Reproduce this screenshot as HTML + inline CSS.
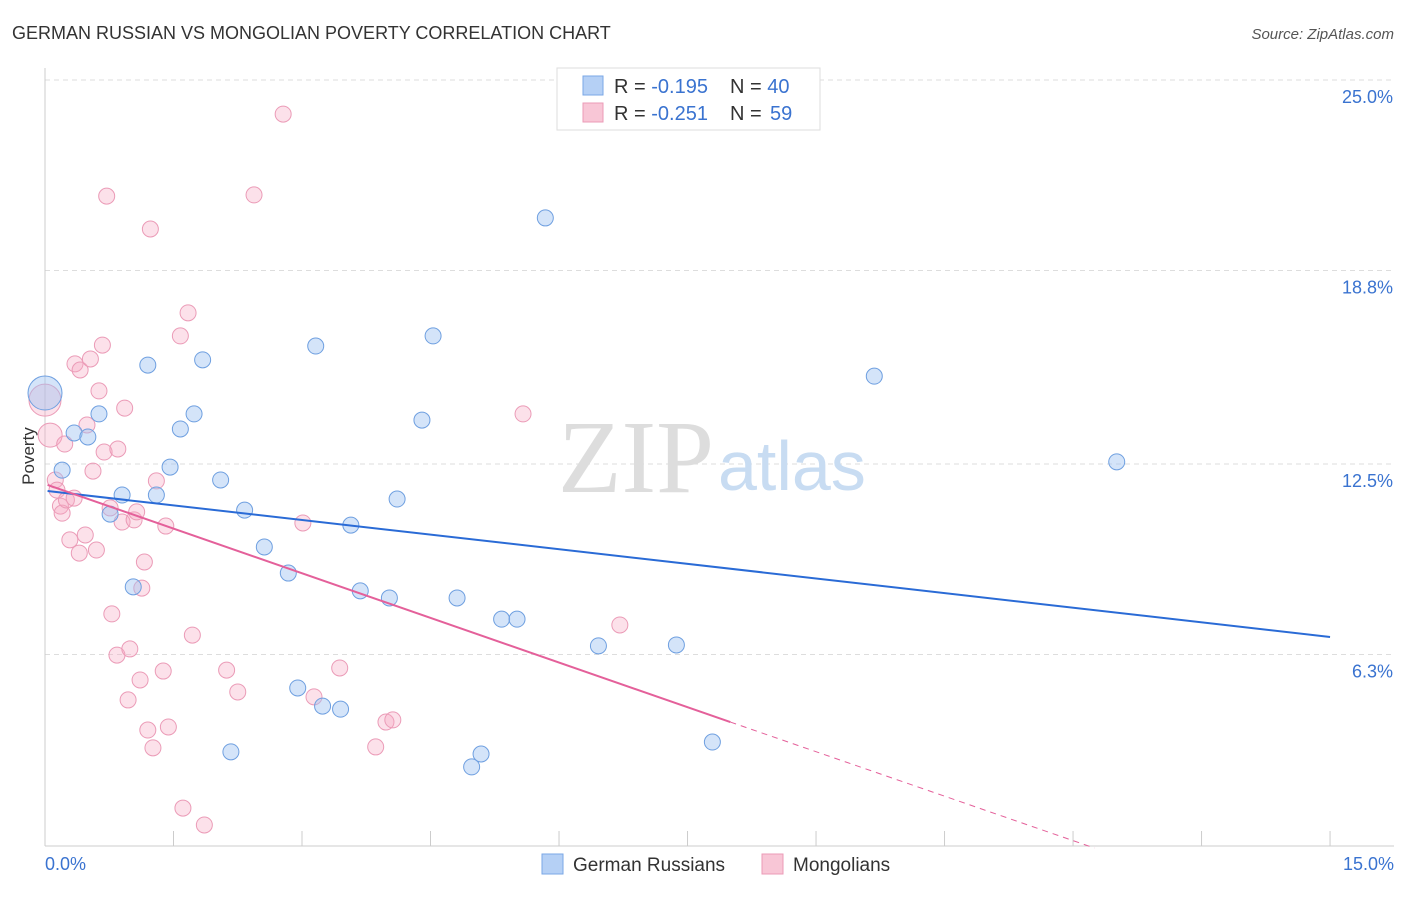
<!DOCTYPE html>
<html><head><meta charset="utf-8"><style>
body{margin:0;background:#fff;font-family:"Liberation Sans",sans-serif}
</style></head><body>
<svg id="chart" width="1406" height="892" xmlns="http://www.w3.org/2000/svg" font-family="Liberation Sans, sans-serif">
<text x="12" y="39" font-size="18" fill="#333">GERMAN RUSSIAN VS MONGOLIAN POVERTY CORRELATION CHART</text>
<text x="1394" y="39" font-size="15" fill="#555" font-style="italic" text-anchor="end">Source: ZipAtlas.com</text>
<g id="grid"></g>
<text x="714" y="492" font-size="104" fill="#ddd" text-anchor="end" font-family="Liberation Serif, serif">ZIP</text>
<text x="718" y="490" font-size="70" fill="#c8dcf2">atlas</text>
<g id="axes"></g>
<g id="marks"></g>
<text x="34" y="456" font-size="17" fill="#333" text-anchor="middle" transform="rotate(-90 34 456)">Poverty</text>
<g>
<rect x="557" y="68" width="263" height="62" fill="#fff" stroke="#ddd"/>
<rect x="583" y="76" width="20" height="19" fill="#b5d0f5" stroke="#7aa7e6"/>
<rect x="583" y="103" width="20" height="19" fill="#f8c6d6" stroke="#eb9bb7"/>
<text x="614" y="93" font-size="20" fill="#333">R = <tspan fill="#3a73d0">-0.195</tspan></text>
<text x="730" y="93" font-size="20" fill="#333">N = <tspan fill="#3a73d0">40</tspan></text>
<text x="614" y="120" font-size="20" fill="#333">R = <tspan fill="#3a73d0">-0.251</tspan></text>
<text x="730" y="120" font-size="20" fill="#333">N = <tspan x="770" fill="#3a73d0">59</tspan></text>
</g>
<g>
<rect x="542" y="854" width="21" height="20" fill="#b5d0f5" stroke="#7aa7e6"/>
<text x="573" y="871" font-size="19" fill="#333">German Russians</text>
<rect x="762" y="854" width="21" height="20" fill="#f8c6d6" stroke="#eb9bb7"/>
<text x="793" y="871" font-size="19" fill="#333">Mongolians</text>
</g>
</svg>
<script>
const yTicks=[25.0,18.8,12.5,6.3];
const xTickLabels=["0.0%","15.0%"];
const blueX=[0,0.2,0.34,0.5,0.63,0.76,0.9,1.03,1.2,1.3,1.46,1.58,1.74,1.84,2.05,2.17,2.33,2.56,2.84,2.95,3.16,3.24,3.45,3.57,3.68,4.02,4.11,4.4,4.53,4.81,4.98,5.09,5.33,5.51,5.84,6.46,7.37,7.79,9.68,12.51];
const blueY=[14.81,12.3,13.51,13.38,14.13,10.87,11.49,8.5,15.72,11.49,12.4,13.64,14.13,15.89,11.98,3.13,11.0,9.8,8.95,5.21,16.34,4.62,4.52,10.51,8.37,8.14,11.36,13.93,16.67,8.14,2.64,3.06,7.45,7.45,20.51,6.58,6.61,3.45,15.36,12.57];
const pinkX=[0,0.06,0.12,0.14,0.18,0.2,0.25,0.23,0.29,0.34,0.35,0.4,0.41,0.47,0.49,0.53,0.56,0.6,0.63,0.67,0.69,0.72,0.76,0.78,0.84,0.85,0.9,0.93,0.97,0.99,1.04,1.07,1.11,1.13,1.16,1.2,1.23,1.26,1.3,1.38,1.41,1.44,1.58,1.61,1.67,1.72,1.86,2.12,2.25,2.44,2.78,3.01,3.14,3.44,3.86,3.98,4.06,5.58,6.71];
const pinkY=[14.58,13.44,11.98,11.65,11.13,10.9,11.33,13.15,10.03,11.39,15.76,9.6,15.56,10.19,13.77,15.92,12.27,9.7,14.88,16.37,12.89,21.22,11.07,7.62,6.28,12.99,10.61,14.32,4.82,6.48,10.68,10.94,5.47,8.46,9.31,3.84,20.15,3.26,11.95,5.76,10.48,3.94,16.67,1.3,17.42,6.93,0.75,5.79,5.08,21.26,23.89,10.58,4.92,5.86,3.29,4.1,4.17,14.13,7.26];
const blueBig=[0]; const pinkBig=[0,1];
const blueTrend=[11.62,6.87]; // at x=0 and x=15
const pinkTrend=[11.82,-0.965]; // intercept, slope
const X=v=>45+v*85.67, Y=v=>848-v*30.72;
const NS="http://www.w3.org/2000/svg";
function mk(tag,attrs,parent){const e=document.createElementNS(NS,tag);for(const k in attrs)e.setAttribute(k,attrs[k]);parent.appendChild(e);return e;}
const grid=document.getElementById('grid'),axes=document.getElementById('axes'),marks=document.getElementById('marks');
yTicks.forEach(t=>{
 const l=mk('line',{x1:45,x2:1394,y1:Y(t),y2:Y(t),stroke:'#ddd','stroke-dasharray':'5,4'},grid);
 
 
 const tx=mk('text',{x:1393,y:Y(t)+23,'font-size':18,fill:'#3a73d0','text-anchor':'end'},axes);
 tx.textContent=t.toFixed(1)+'%';
 
 
});
mk('line',{x1:45,x2:45,y1:68,y2:846,stroke:'#ccc'},axes);
mk('line',{x1:45,x2:1394,y1:846,y2:846,stroke:'#ccc'},axes);
for(let i=0;i<=10;i++){const t=mk('line',{x1:X(i*1.5),x2:X(i*1.5),y1:831,y2:846,stroke:'#ccc'},axes);
 
 }
[[45,'start',0],[1394,'end',1]].forEach(([x,a,i])=>{const t=mk('text',{x:x,y:870,'font-size':18,fill:'#3a73d0','text-anchor':a},axes);t.textContent=xTickLabels[i];
 
 });
pinkX.forEach((x,i)=>{const r=pinkBig.includes(i)?(i==0?16:12):8;
 const c=mk('circle',{cx:X(x),cy:Y(pinkY[i]),r:r,fill:'rgba(246,170,196,0.35)',stroke:'#eb9bb7','stroke-width':1},marks);
 
 });
blueX.forEach((x,i)=>{const r=blueBig.includes(i)?17:8;
 const c=mk('circle',{cx:X(x),cy:Y(blueY[i]),r:r,fill:'rgba(160,196,242,0.45)',stroke:'#6e9fe0','stroke-width':1},marks);
 
 });
const bl=mk('line',{x1:X(0.03),y1:Y(blueTrend[0]),x2:X(15),y2:Y(blueTrend[1]),stroke:'#2a6bd6','stroke-width':2},marks);


const pe=8, pz=-pinkTrend[0]/pinkTrend[1];
const pl=mk('line',{x1:X(0.03),y1:Y(pinkTrend[0]),x2:X(pe),y2:Y(pinkTrend[0]+pinkTrend[1]*pe),stroke:'#e4609a','stroke-width':2},marks);


const pd=mk('line',{x1:X(pe),y1:Y(pinkTrend[0]+pinkTrend[1]*pe),x2:X(pz),y2:Y(0),stroke:'#e4609a','stroke-width':1,'stroke-dasharray':'6,5'},marks);


</script>
</body></html>
